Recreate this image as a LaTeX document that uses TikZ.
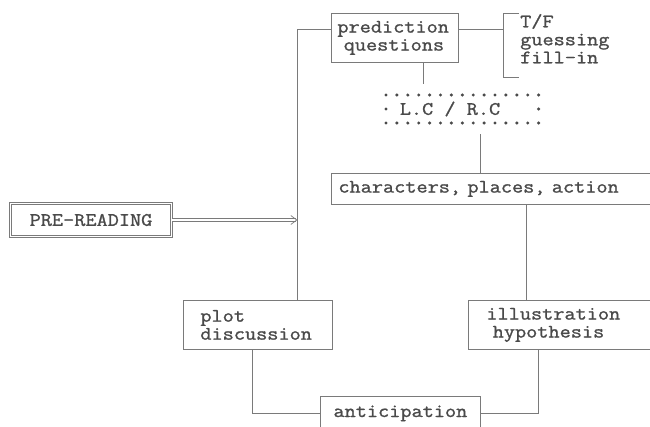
\documentclass[tikz,border=0pt]{standalone}
\usepackage{fontspec}
\setmonofont{Latin Modern Mono}[FakeBold=1.2, FakeStretch=1.14]
\usetikzlibrary{arrows.meta,positioning}
\definecolor{ink}{HTML}{4A4A4A}
\definecolor{rule}{HTML}{7A7A7A}
\tikzset{
  typed/.style={font=\ttfamily\fontsize{19}{18}\selectfont, text=ink},
  tbox/.style={typed, draw=rule, line width=0.8pt, inner ysep=0pt},
  headbox/.style={typed, draw=rule, double, double distance=1.8pt, line width=0.7pt},
  link/.style={draw=rule, line width=0.8pt},
  dblarr/.style={draw=rule, double, double distance=1.8pt, line width=0.7pt,
    -{Straight Barb[length=6pt, width=9pt]}},
  dot/.style={circle, fill=ink, inner sep=1.2pt}
}
\begin{document}
\begin{tikzpicture}[x=1pt, y=-1pt]
  \useasboundingbox (0,0) rectangle (650,426);
  \node[headbox, minimum width=161pt, minimum height=33pt] (pre) at (91,220) {PRE-READING};
  \node[tbox, anchor=north west, align=left, text width=115pt, inner xsep=6pt,
    minimum height=49pt] (pred) at (331,13) {prediction\\~questions};
  \node[typed, anchor=north west, align=left, inner xsep=17pt, inner ysep=0pt,
    minimum height=64pt, text depth=13pt]
    (tf) at (503,13) {T/F\\guessing\\fill-in};
  \node[typed, minimum width=150pt, minimum height=50pt] (lcrc) at (450,109) {L.C / R.C};
  \node[tbox, anchor=north west, align=left, text width=315pt, inner xsep=7pt,
    minimum height=31pt] (chars) at (331,173) {characters, places, action};
  \node[tbox, anchor=north west, align=left, text width=115pt, inner xsep=17pt,
    minimum height=49pt] (plot) at (183,300) {plot\\discussion};
  \node[tbox, anchor=north west, align=left, text width=160pt, inner xsep=18pt,
    minimum height=49pt] (ill) at (468,300) {illustration\\~hypothesis};
  \node[tbox, anchor=north west, minimum width=160pt, minimum height=34pt] (antic) at (320,396) {anticipation};

  % dotted frame round L.C / R.C
  \foreach \k in {0,...,14} {
    \node[dot] at ([shift={(\k*10.9-64,-14)}]lcrc.center) {};
    \node[dot] at ([shift={(\k*10.9-64,14)}]lcrc.center) {};
  }
  \node[dot] at ([shift={(-64,0)}]lcrc.center) {};
  \node[dot] at ([shift={(88.6,0)}]lcrc.center) {};

  % bracket for the question types
  \draw[link] ([xshift=16pt]tf.north west) -- (tf.north west) -- (tf.south west) -- ([xshift=16pt]tf.south west);

  \draw[dblarr] (pre.east) -- ([xshift=39.5pt]plot.north |- pre.east);
  \draw[link] ([yshift=8.5pt]pred.west) -| ([xshift=39.5pt]plot.north);
  \draw[link] ([yshift=8.5pt]pred.east) -- ([yshift=8.5pt]pred.east -| tf.west);
  \draw[link] ([xshift=28pt]pred.south) -- ([xshift=28pt]pred.south |- lcrc.north);
  \draw[link] ([xshift=30pt]lcrc.south) -- ([xshift=30pt]lcrc.south |- chars.north);
  \draw[link] ([xshift=30.5pt]chars.south) -- ([xshift=30.5pt]chars.south |- ill.north);
  \draw[link] ([xshift=-6pt]plot.south) |- (antic.west);
  \draw[link] ([xshift=-28pt]ill.south) |- (antic.east);
\end{tikzpicture}
\end{document}
